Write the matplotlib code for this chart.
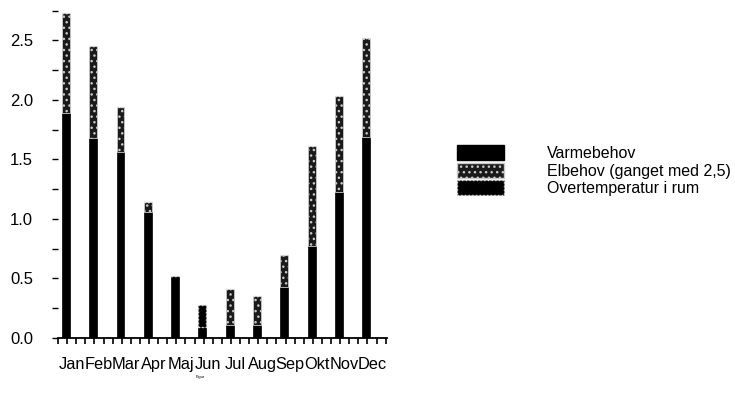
import numpy as np
import matplotlib.pyplot as plt
from matplotlib.patches import Patch

# data
months = ['Jan', 'Feb', 'Mar', 'Apr', 'Maj', 'Jun', 'Jul', 'Aug', 'Sep', 'Okt', 'Nov', 'Dec']
varme = [1.89, 1.68, 1.56, 1.06, 0.52, 0.09, 0.11, 0.11, 0.43, 0.77, 1.23, 1.69]
elbehov = [0.84, 0.77, 0.38, 0.08, 0.0, 0.0, 0.30, 0.24, 0.27, 0.84, 0.80, 0.83]
overtemp = [0.0, 0.0, 0.0, 0.0, 0.0, 0.19, 0.0, 0.0, 0.0, 0.0, 0.0, 0.0]
labels = ['Varmebehov', 'Elbehov (ganget med 2,5)', 'Overtemperatur i rum']
yticks = [0.0, 0.5, 1.0, 1.5, 2.0, 2.5]

plt.rcParams['font.family'] = ['Liberation Sans', 'DejaVu Sans']

fig = plt.figure(figsize=(7.35, 4.05), dpi=100)
ax = fig.add_axes([58 / 735, 1 - 338 / 405, 329 / 735, 338 / 405])

x = np.arange(len(months))
bx = x + 0.29
w = 0.29
varme = np.array(varme)
elbehov = np.array(elbehov)
overtemp = np.array(overtemp)

ax.bar(bx, varme, w, color='black', edgecolor='black', linewidth=0.5)
ax.bar(bx, elbehov, w, bottom=varme, facecolor='#1a1a1a', edgecolor='#c8c8c8',
       hatch='...', linewidth=0.6)
ax.bar(bx, overtemp, w, bottom=varme + elbehov, facecolor='black', edgecolor='#dddddd',
       linestyle=':', linewidth=1.0)

ax.set_xlim(0, 12.05)
ax.set_ylim(0, 2.84)
ax.set_xticks(x + 0.5)
ax.set_xticklabels(months, fontsize=11.8)
ax.set_xticks(np.arange(0, 12.1, 1 / 3), minor=True)
ax.tick_params(axis='x', which='major', length=0, pad=14)
ax.tick_params(axis='x', which='minor', direction='out', length=4, width=1.2)
ax.set_yticks(yticks)
ax.set_yticklabels([f'{v:.1f}' for v in yticks], fontsize=12)
ax.set_yticks(np.arange(0, 2.8, 0.25), minor=True)
ax.tick_params(axis='y', which='both', direction='out', length=4, width=1, pad=14)

for s in ['top', 'right', 'left']:
    ax.spines[s].set_visible(False)
ax.spines['bottom'].set_linewidth(1.3)

fig.text(200 / 735, 1 - 378 / 405, 'Figur', fontsize=3, ha='center')

handles = [
    Patch(facecolor='black', edgecolor='black'),
    Patch(facecolor='#1a1a1a', edgecolor='#c8c8c8', hatch='...'),
    Patch(facecolor='black', edgecolor='#dddddd', linestyle=':'),
]
fig.legend(handles, labels, loc='upper left', bbox_to_anchor=(443 / 735, 1 - 131 / 405),
           frameon=False, fontsize=11.5, handlelength=2.9, handleheight=1.05,
           handletextpad=2.7, labelspacing=0.1)

fig.savefig('out.png', dpi=100)
